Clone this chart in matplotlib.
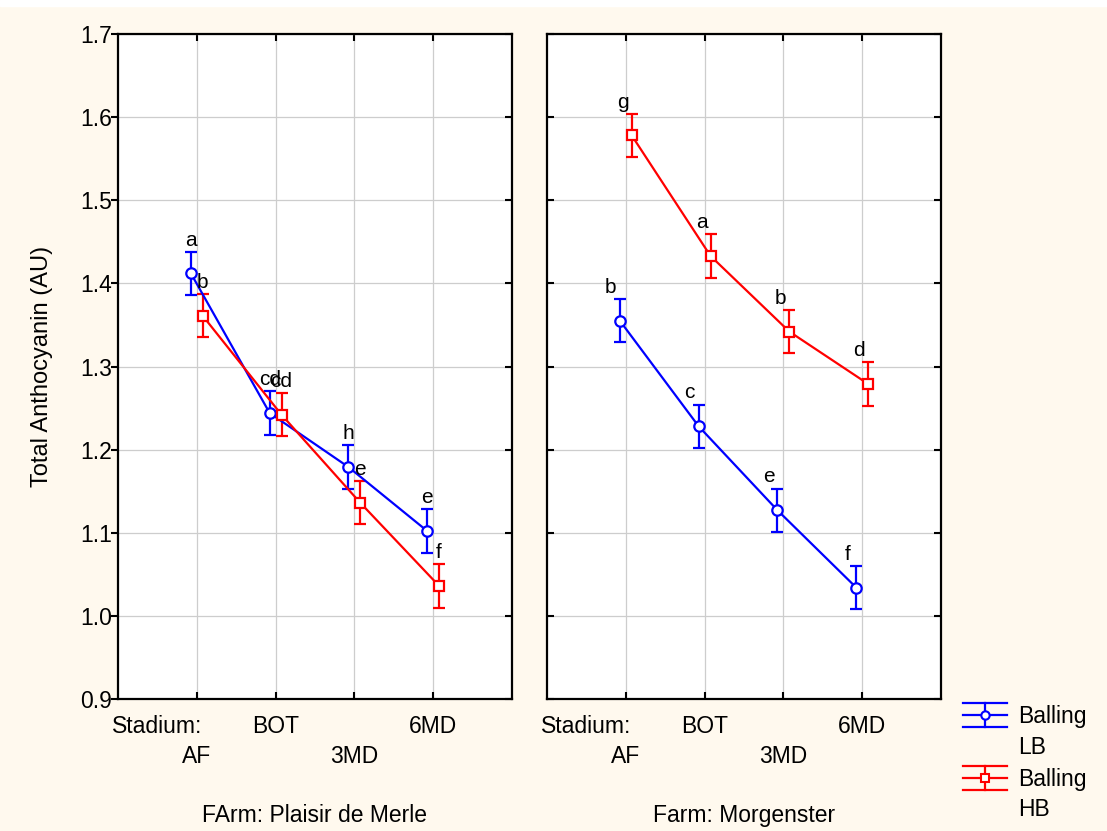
import matplotlib
matplotlib.use("Agg")
import matplotlib.pyplot as plt
import matplotlib.lines as mlines
from matplotlib.patches import Rectangle

plt.rcParams['font.family'] = ['Liberation Sans', 'DejaVu Sans']

# Data
stages = ['AF', 'BOT', '3MD', '6MD']
farms = ['FArm: Plaisir de Merle', 'Farm: Morgenster']
series_names = ['Balling\nLB', 'Balling\nHB']

lb_means = [[1.412, 1.244, 1.179, 1.102],
            [1.355, 1.228, 1.127, 1.034]]
hb_means = [[1.361, 1.242, 1.136, 1.036],
            [1.578, 1.433, 1.342, 1.279]]
lb_err = [[0.026, 0.026, 0.026, 0.026],
          [0.026, 0.026, 0.026, 0.026]]
hb_err = [[0.026, 0.026, 0.026, 0.026],
          [0.026, 0.026, 0.026, 0.026]]
lb_letters = [['a', 'cd', 'h', 'e'], ['b', 'c', 'e', 'f']]
hb_letters = [['b', 'cd', 'e', 'f'], ['g', 'a', 'b', 'd']]

y_ticks = [0.9, 1.0, 1.1, 1.2, 1.3, 1.4, 1.5, 1.6, 1.7]

BLUE = '#0000FF'
RED = '#FF0000'
BG = '#FFF9EE'
W, H = 1107, 831


def px(x0, y0, w, h):
    """pixel box (top-left origin) -> figure fraction rect"""
    return [x0 / W, 1 - (y0 + h) / H, w / W, h / H]


fig = plt.figure(figsize=(W / 100, H / 100), dpi=100, facecolor=BG)
fig.add_artist(Rectangle((0, 1 - 6 / H), 1, 6 / H, transform=fig.transFigure,
                         color='white', zorder=0))

axes = [fig.add_axes(px(118, 34, 394, 665)), fig.add_axes(px(547, 34, 394, 665))]
positions = list(range(1, len(stages) + 1))
label_dx = [0, -6.5]

for i, ax in enumerate(axes):
    ax.set_facecolor('white')
    ax.set_xlim(0, 5)
    ax.set_ylim(0.9, 1.7)
    ax.set_xticks(positions)
    ax.set_xticklabels([])
    ax.set_yticks(y_ticks)
    if i == 0:
        ax.set_yticklabels([f"{v:.1f}" for v in y_ticks], fontsize=16.5)
    else:
        ax.set_yticklabels([])
    ax.grid(True, color='#CDCDCD', linewidth=0.9, zorder=0)
    ax.set_axisbelow(True)
    ax.tick_params(direction='in', length=5, width=1.5, top=True, right=True,
                   pad=4, colors='black')
    for sp in ax.spines.values():
        sp.set_linewidth(1.6)

    for means, errs, letters, color, marker, off in [
            (lb_means[i], lb_err[i], lb_letters[i], BLUE, 'o', -0.075),
            (hb_means[i], hb_err[i], hb_letters[i], RED, 's', 0.075)]:
        xs = [p + off for p in positions]
        ax.errorbar(xs, means, yerr=errs, color=color, lw=1.6, marker=marker,
                    ms=7.5, mfc='white', mec=color, mew=1.6,
                    capsize=4.5, capthick=1.6, elinewidth=1.6, zorder=3)
        for x, m, e, t in zip(xs, means, errs, letters):
            ax.annotate(t, xy=(x, m + e), xytext=(label_dx[i], 4.5),
                        textcoords='offset points', ha='center', va='baseline',
                        fontsize=15, zorder=4)

    # stage labels, staggered on two rows like the original
    ax.annotate('Stadium:', xy=(0.5, 0), xycoords=('data', 'axes fraction'),
                xytext=(0, -24.5), textcoords='offset points',
                ha='center', va='baseline', fontsize=16.5, annotation_clip=False)
    for j, (p, s) in enumerate(zip(positions, stages)):
        dy = -46 if j % 2 == 0 else -24.5
        ax.annotate(s, xy=(p, 0), xycoords=('data', 'axes fraction'),
                    xytext=(0, dy), textcoords='offset points',
                    ha='center', va='baseline', fontsize=16.5, annotation_clip=False)
    ax.annotate(farms[i], xy=(0.5, 0), xycoords='axes fraction',
                xytext=(0, -88.5), textcoords='offset points',
                ha='center', va='baseline', fontsize=16.5, annotation_clip=False)

# outward ticks on the far-left axis only
for t in axes[0].yaxis.get_major_ticks():
    t.tick1line.set_marker(mlines.TICKLEFT)

fig.text(42 / W, 1 - 366 / H, 'Total Anthocyanin (AU)', rotation=90,
         ha='center', va='center', fontsize=17)

# legend drawn Statistica-style: whisker with wide caps
for (cy, color, marker, name) in [(714.7, BLUE, 'o', series_names[0]),
                                  (777.5, RED, 's', series_names[1])]:
    for dy in (-12, 0, 12):
        fig.add_artist(mlines.Line2D([963 / W, 1007 / W], [1 - (cy + dy) / H] * 2,
                                     color=color, lw=1.6, transform=fig.transFigure))
    fig.add_artist(mlines.Line2D([985 / W] * 2, [1 - (cy - 12) / H, 1 - (cy + 12) / H],
                                 color=color, lw=1.6, transform=fig.transFigure))
    fig.add_artist(mlines.Line2D([985 / W], [1 - cy / H], color=color, marker=marker,
                                 ms=6, mfc='white', mec=color, mew=1.5,
                                 transform=fig.transFigure))
    first, second = name.split('\n')
    fig.text(1018 / W, 1 - (cy + 8.5) / H, first, ha='left', va='baseline', fontsize=16.5)
    fig.text(1018 / W, 1 - (cy + 39) / H, second, ha='left', va='baseline', fontsize=16.5)

fig.savefig('out.png', dpi=100, facecolor=BG)
